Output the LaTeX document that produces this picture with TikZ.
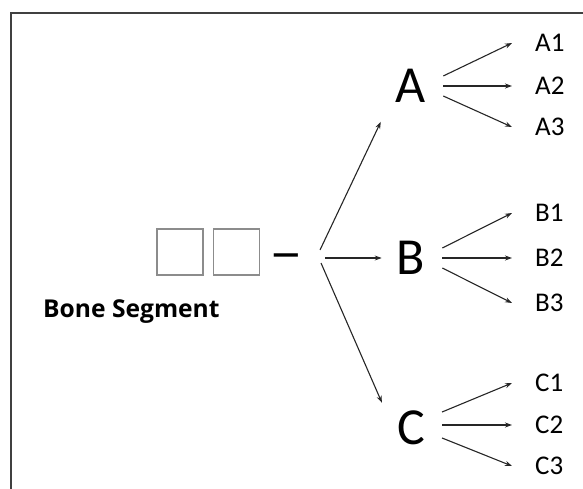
\documentclass[tikz,border=0pt]{standalone}
\usepackage{fontspec}
\setmainfont{Carlito}
\newfontfamily\labelfont{Open Sans}
\usetikzlibrary{arrows.meta}
\begin{document}
\begin{tikzpicture}[x=1pt,y=-1pt,
  arr/.style={-{Stealth[length=7pt,width=5pt]}, line width=1.1pt, draw=black!85},
  seg/.style={draw=black!45, line width=1.1pt, minimum size=46pt, inner sep=0pt},
  big/.style={font=\fontsize{52}{52}\selectfont, inner sep=0pt},
  leaf/.style={font=\fontsize{27}{27}\selectfont, inner sep=0pt, anchor=west},
]
\useasboundingbox (0,0) rectangle (583,489);
% frame (top and left edges)
\draw[line width=1.6pt, black!75] (11,489) -- (11,13) -- (583,13);

% bone segment boxes
\node[seg] (s1) at (180,252) {};
\node[seg] (s2) at (236.5,252) {};
\node[font=\fontsize{54}{54}\selectfont, inner sep=0pt, xscale=1.25, transform shape] (dash) at (286.5,262) {–};
\node[font=\labelfont\bfseries\fontsize{24.6}{24.6}\selectfont, anchor=base west, inner sep=0pt] (lbl) at (43,317) {Bone Segment};

% level one
\node[big] (A) at (411,86) {A};
\node[big] (B) at (411,258) {B};
\node[big] (C) at (411,428) {C};
\coordinate (fan) at (320,257);
\draw[arr] ([shift={(0,-7)}]fan) -- ([shift={(-15,19)}]A.south west);
\draw[arr] ([shift={(5,1)}]fan) -- ([shift={(-15,0)}]B.west);
\draw[arr] ([shift={(1,6)}]fan) -- ([shift={(-15,-8)}]C.north west);

% level two
\node[leaf] (A1) at (535,43) {A1};
\node[leaf] (A2) at (535,86) {A2};
\node[leaf] (A3) at (535,127) {A3};
\node[leaf] (B1) at (535,213) {B1};
\node[leaf] (B2) at (535,258) {B2};
\node[leaf] (B3) at (535,303) {B3};
\node[leaf] (C1) at (535,383) {C1};
\node[leaf] (C2) at (535,425) {C2};
\node[leaf] (C3) at (535,466) {C3};

\foreach \p/\d in {A/-10, B/-10, C/-16} {
  \draw[arr] ([shift={(17,\d)}]\p.east) -- ([xshift=-23pt]\p1.west);
}
\draw[arr] ([xshift=17pt]A.east |- A2.west) -- ([xshift=-23pt]A2.west);
\draw[arr] ([xshift=17pt]B.east |- B2.west) -- ([xshift=-23pt]B2.west);
\draw[arr] ([xshift=17pt]C.east |- C2.west) -- ([xshift=-23pt]C2.west);
\draw[arr] ([shift={(17,10)}]A.east) -- ([xshift=-23pt]A3.west);
\draw[arr] ([shift={(17,10)}]B.east) -- ([xshift=-23pt]B3.west);
\draw[arr] ([shift={(17,10)}]C.east) -- ([xshift=-23pt]C3.west);
\end{tikzpicture}
\end{document}
